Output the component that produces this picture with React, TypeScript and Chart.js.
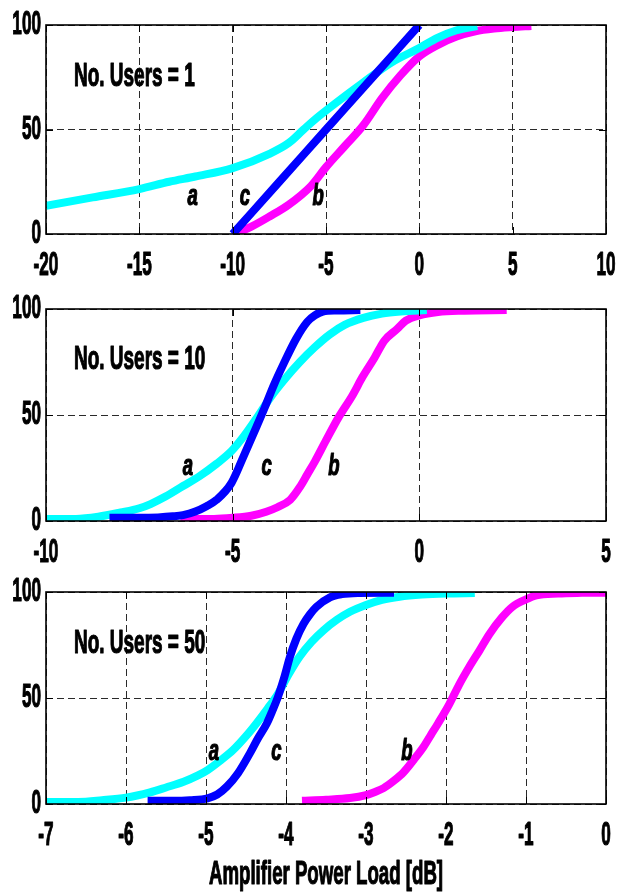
import React, { useEffect, useRef } from "react";
import { Chart, registerables } from "chart.js";

Chart.register(...registerables);

const CYAN = "#00FFFF";
const BLUE = "#0000FF";
const MAGENTA = "#FF00FF";

// ---------- shared ----------
const yTicks = [0, 50, 100];

// ---------- Panel 1 : No. Users = 1 ----------
const p1TicksX = [-20, -15, -10, -5, 0, 5, 10];
const p1aX = [-20, -17.5, -15, -13.4, -12, -10, -8, -7, -6.2, -5.5, -4.5, -3, -1.5, 0, 1, 2, 3.1];
const p1aY = [13.5, 17.5, 21.5, 25, 27.5, 31.5, 38.5, 43.5, 50, 55.5, 62.5, 72.5, 82, 89, 94, 97.5, 99.5];
const p1cX = [-10, -7.5, -5, -2.5, 0];
const p1cY = [0, 25, 50, 75, 100];
const p1bX = [-9.9, -9, -8, -7, -5.8, -5, -4, -3, -2, -1, 0, 1, 2, 3, 4, 5, 6];
const p1bY = [0, 3.5, 8.5, 14, 23, 32, 42, 52, 65, 76, 85, 90.5, 94.5, 97, 98.3, 99, 99.5];

// ---------- Panel 2 : No. Users = 10 ----------
const p2TicksX = [-10, -5, 0, 5];
const p2aX = [-10, -9.2, -8.6, -8, -7.5, -7.2, -6.8, -6.33, -5.9, -5.43, -5.03, -4.7, -4.36, -4.0, -3.6, -3.2, -2.8, -2.4, -2.0, -1.5, -1.0, -0.5, 0.2];
const p2aY = [1, 1, 2, 4, 6, 8, 11.5, 16.5, 21, 27, 33, 40, 48.5, 58, 67, 75, 82, 88, 92.5, 95.8, 97.8, 98.8, 99.5];
const p2cX = [-8.3, -7.5, -7, -6.6, -6.33, -6, -5.7, -5.43, -5.03, -4.72, -4.36, -4.13, -3.9, -3.64, -3.3, -3.0, -2.8, -2.58, -2.2, -1.58];
const p2cY = [1.5, 1.5, 1.7, 2.2, 2.8, 4.5, 7, 10, 18, 30, 44.5, 54, 64, 74, 86, 94, 97, 98.8, 99.3, 99.5];
const p2bX = [-6.4, -5.5, -5, -4.5, -4.1, -3.8, -3.46, -3.2, -3.0, -2.8, -2.5, -2.16, -1.8, -1.52, -1.2, -0.94, -0.6, -0.36, 0, 0.5, 1.2, 2.34];
const p2bY = [1, 1, 1.5, 2.5, 4.4, 6.5, 10, 16, 22, 28, 38, 49, 59, 68, 77, 85, 90.5, 94.5, 97, 98.6, 99.2, 99.5];

// ---------- Panel 3 : No. Users = 50 ----------
const p3TicksX = [-7, -6, -5, -4, -3, -2, -1, 0];
const p3aX = [-7, -6.6, -6.3, -6.0, -5.7, -5.5, -5.28, -5.1, -4.98, -4.82, -4.66, -4.5, -4.37, -4.23, -4.1, -3.97, -3.83, -3.68, -3.53, -3.36, -3.2, -3.0, -2.8, -2.58, -2.3, -2.0, -1.64];
const p3aY = [1, 1, 1.8, 3, 5.5, 7.8, 10.5, 13.5, 16, 20.5, 25.5, 32, 38, 45, 52, 61, 69.5, 76.5, 82, 87, 90.7, 93.9, 96.3, 97.8, 98.8, 99.3, 99.5];
const p3cX = [-5.73, -5.4, -5.2, -4.98, -4.86, -4.74, -4.6, -4.45, -4.35, -4.24, -4.17, -4.1, -4.02, -3.95, -3.87, -3.78, -3.7, -3.62, -3.45, -3.3, -3.1, -2.65];
const p3cY = [1.5, 1.5, 1.8, 2.7, 4.5, 8.2, 14.5, 24, 31, 38, 44, 50.6, 60, 69.5, 78, 85, 89.5, 93, 97.5, 99, 99.5, 99.6];
const p3bX = [-3.8, -3.5, -3.2, -3.0, -2.88, -2.78, -2.65, -2.53, -2.4, -2.28, -2.19, -2.1, -1.96, -1.84, -1.71, -1.58, -1.46, -1.3, -1.17, -1.0, -0.87, -0.6, -0.3, 0];
const p3bY = [1.5, 2, 2.8, 4.2, 5.8, 7.5, 11, 15, 21, 27, 32.5, 38, 47, 56, 64.6, 72.5, 80, 88, 93, 96.5, 98.4, 99.3, 99.6, 99.7];

const xTitle = "Amplifier Power Load [dB]";

const FONT_FAMILY = '"Liberation Sans", Arial, sans-serif';
const TICK_FONT = `bold 33px ${FONT_FAMILY}`;
const TEXT_FONT = `bold 33px ${FONT_FAMILY}`;
const LABEL_FONT = `italic bold 29px ${FONT_FAMILY}`;

type Curve = { xs: number[]; ys: number[]; color: string };
type Note = { text: string; x: number; y: number };

type PanelProps = {
  top: number;
  height: number;
  pad: { top: number; bottom: number; left: number; right: number };
  xMin: number;
  xMax: number;
  xTicks: number[];
  curves: Curve[];
  title: Note;
  notes: Note[];
  axisTitle?: string;
};

function toPts(xs: number[], ys: number[]) {
  return xs.map((x, i) => ({ x, y: ys[i] }));
}

function Panel(props: PanelProps) {
  const ref = useRef<HTMLCanvasElement | null>(null);
  useEffect(() => {
    if (!ref.current) return;
    const { xTicks, title, notes, axisTitle } = props;

    const drawText = (
      ctx: CanvasRenderingContext2D,
      t: string,
      px: number,
      py: number,
      font: string,
      align: CanvasTextAlign,
      sx: number
    ) => {
      ctx.save();
      ctx.translate(px, py);
      ctx.scale(sx, 1);
      ctx.font = font;
      ctx.textAlign = align;
      ctx.textBaseline = "middle";
      ctx.fillStyle = "#000";
      ctx.strokeStyle = "#000";
      ctx.lineWidth = 1.2;
      ctx.lineJoin = "round";
      ctx.fillText(t, 0, 0);
      ctx.strokeText(t, 0, 0);
      ctx.restore();
    };

    const textPlugin = {
      id: "matlabTexts",
      afterDraw(chart: any) {
        const { ctx, chartArea: ca, scales } = chart;
        const xs = scales.x;
        const ys = scales.y;
        ctx.save();
        ctx.setLineDash([]);
        // inward tick marks
        ctx.strokeStyle = "#000";
        ctx.lineWidth = 1;
        ctx.beginPath();
        xTicks.forEach((v) => {
          const px = Math.round(xs.getPixelForValue(v)) + 0.5;
          ctx.moveTo(px, ca.bottom);
          ctx.lineTo(px, ca.bottom - 7);
          ctx.moveTo(px, ca.top);
          ctx.lineTo(px, ca.top + 7);
        });
        yTicks.forEach((v) => {
          const py = Math.round(ys.getPixelForValue(v)) + 0.5;
          ctx.moveTo(ca.left, py);
          ctx.lineTo(ca.left + 7, py);
          ctx.moveTo(ca.right, py);
          ctx.lineTo(ca.right - 7, py);
        });
        ctx.stroke();
        // box
        ctx.lineWidth = 1.6;
        ctx.strokeRect(ca.left, ca.top, ca.right - ca.left, ca.bottom - ca.top);
        ctx.restore();

        // tick labels
        xTicks.forEach((v) => {
          drawText(ctx, String(v), xs.getPixelForValue(v), ca.bottom + 32, TICK_FONT, "center", 0.52);
        });
        yTicks.forEach((v) => {
          drawText(ctx, String(v), ca.left - 5, ys.getPixelForValue(v), TICK_FONT, "right", 0.52);
        });
        // panel title
        drawText(ctx, title.text, xs.getPixelForValue(title.x), ys.getPixelForValue(title.y), TEXT_FONT, "left", 0.575);
        // curve labels
        notes.forEach((n) => {
          drawText(ctx, n.text, xs.getPixelForValue(n.x), ys.getPixelForValue(n.y), LABEL_FONT, "center", 0.64);
        });
        if (axisTitle) {
          drawText(ctx, axisTitle, (ca.left + ca.right) / 2, ca.bottom + 71, TEXT_FONT, "center", 0.565);
        }
      },
    };

    const chart = new Chart(ref.current, {
      type: "line",
      data: {
        datasets: props.curves.map((c) => ({
          data: toPts(c.xs, c.ys),
          borderColor: c.color,
          backgroundColor: c.color,
          borderWidth: 8,
          pointRadius: 0,
          fill: false,
          cubicInterpolationMode: "monotone" as const,
          borderCapStyle: "butt" as const,
          borderJoinStyle: "round" as const,
        })),
      },
      options: {
        animation: false,
        responsive: false,
        maintainAspectRatio: false,
        events: [],
        layout: { padding: props.pad },
        plugins: {
          legend: { display: false },
          tooltip: { enabled: false },
          title: { display: false },
        },
        scales: {
          x: {
            type: "linear",
            min: props.xMin,
            max: props.xMax,
            afterBuildTicks: (s: any) => {
              s.ticks = xTicks.map((v) => ({ value: v }));
            },
            afterFit: (s: any) => {
              s.height = 0;
            },
            ticks: { display: false },
            grid: { color: "#2a2a2a", lineWidth: 1, drawTicks: false },
            border: { display: false, dash: [7, 4] },
          },
          y: {
            type: "linear",
            min: 0,
            max: 100,
            afterBuildTicks: (s: any) => {
              s.ticks = yTicks.map((v) => ({ value: v }));
            },
            afterFit: (s: any) => {
              s.width = 0;
            },
            ticks: { display: false },
            grid: { color: "#2a2a2a", lineWidth: 1, drawTicks: false },
            border: { display: false, dash: [7, 4] },
          },
        },
      } as any,
      plugins: [textPlugin],
    });
    return () => chart.destroy();
  }, []);

  return (
    <canvas
      ref={ref}
      width={618}
      height={props.height}
      style={{ position: "absolute", left: 0, top: props.top, width: 618, height: props.height }}
    />
  );
}

export default function App() {
  return (
    <div style={{ position: "absolute", left: 0, top: 0, width: 618, height: 893, background: "#fff", overflow: "hidden" }}>
      <Panel
        top={0}
        height={290}
        pad={{ top: 25, bottom: 56, left: 46, right: 12 }}
        xMin={-20}
        xMax={10}
        xTicks={p1TicksX}
        curves={[
          { xs: p1cX, ys: p1cY, color: BLUE },
          { xs: p1aX, ys: p1aY, color: CYAN },
          { xs: p1bX, ys: p1bY, color: MAGENTA },
        ]}
        title={{ text: "No. Users = 1", x: -18.5, y: 75 }}
        notes={[
          { text: "a", x: -12.14, y: 17.7 },
          { text: "c", x: -9.35, y: 17.7 },
          { text: "b", x: -5.42, y: 17.7 },
        ]}
      />
      <Panel
        top={290}
        height={285}
        pad={{ top: 19, bottom: 54, left: 46, right: 12 }}
        xMin={-10}
        xMax={5}
        xTicks={p2TicksX}
        curves={[
          { xs: p2cX, ys: p2cY, color: BLUE },
          { xs: p2aX, ys: p2aY, color: CYAN },
          { xs: p2bX, ys: p2bY, color: MAGENTA },
        ]}
        title={{ text: "No. Users = 10", x: -9.25, y: 76 }}
        notes={[
          { text: "a", x: -6.2, y: 25.5 },
          { text: "c", x: -4.09, y: 25.5 },
          { text: "b", x: -2.29, y: 25.5 },
        ]}
      />
      <Panel
        top={575}
        height={318}
        pad={{ top: 17, bottom: 89, left: 46, right: 12 }}
        xMin={-7}
        xMax={0}
        xTicks={p3TicksX}
        curves={[
          { xs: p3cX, ys: p3cY, color: BLUE },
          { xs: p3aX, ys: p3aY, color: CYAN },
          { xs: p3bX, ys: p3bY, color: MAGENTA },
        ]}
        title={{ text: "No. Users = 50", x: -6.65, y: 75.5 }}
        notes={[
          { text: "a", x: -4.9, y: 24.7 },
          { text: "c", x: -4.12, y: 24.7 },
          { text: "b", x: -2.49, y: 24.7 },
        ]}
        axisTitle={xTitle}
      />
    </div>
  );
}
